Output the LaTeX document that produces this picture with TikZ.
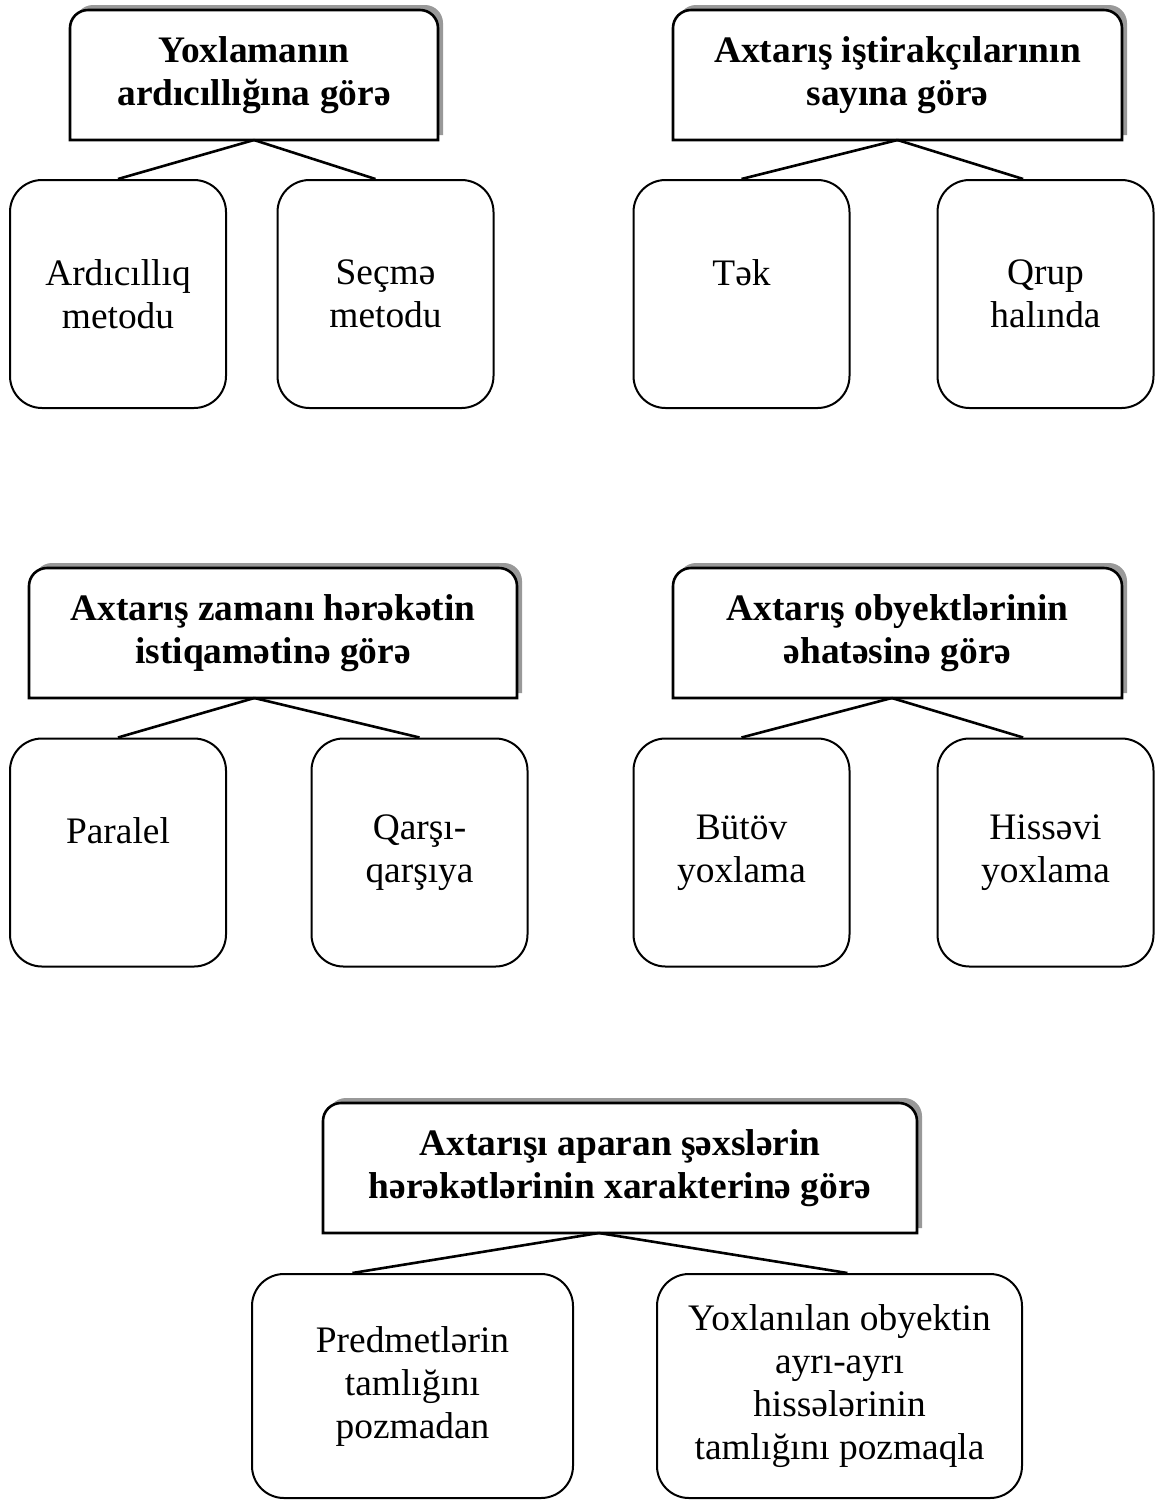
\documentclass[tikz,border=0pt]{standalone}
\usepackage{fontspec}
\setmainfont{Liberation Serif}
\usetikzlibrary{backgrounds}

\tikzset{
  head/.style={align=center, font=\bfseries, minimum height=65pt, inner sep=0pt, outer sep=0pt},
  kind/.style={draw, line width=1pt, rounded corners=16pt, align=center, minimum width=108pt, minimum height=114pt, inner sep=0pt},
  link/.style={line width=1.3pt},
}

\begin{document}
\begin{tikzpicture}[x=0.5pt,y=-0.5pt]
\fontsize{18.7}{21.5}\selectfont
\useasboundingbox (0,0) rectangle (1159,1501);
% headers
\node[head, minimum width=184pt] (h1) at (254,75) {Yoxlamanın\\ardıcıllığına görə};
\node[head, minimum width=224.5pt] (h2) at (897.5,75) {Axtarış iştirakçılarının\\sayına görə};
\node[head, minimum width=244pt] (h3) at (273,633) {Axtarış zamanı hərəkətin\\istiqamətinə görə};
\node[head, minimum width=224.5pt] (h4) at (897.5,633) {Axtarış obyektlərinin\\əhatəsinə görə};
\node[head, minimum width=297pt] (h5) at (620,1168) {Axtarışı aparan şəxslərin\\hərəkətlərinin xarakterinə görə};
% kinds
\node[kind] (ardicil) at (118,294) {Ardıcıllıq\\metodu};
\node[kind] (secme) at (385.5,294) {Seçmə\\metodu};
\node[kind] (tek) at (741.5,294) {Tək\\\mbox{}};
\node[kind] (qrup) at (1045.5,294) {Qrup\\halında};
\node[kind] (paralel) at (118,852.5) {Paralel\\\mbox{}};
\node[kind] (qarsi) at (419.5,852.5) {Qarşı-\\qarşıya};
\node[kind] (butov) at (741.5,852.5) {Bütöv\\yoxlama};
\node[kind] (hisse) at (1045.5,852.5) {Hissəvi\\yoxlama};
\node[kind, minimum width=160.5pt, minimum height=112pt] (tamliq) at (412.5,1386) {Predmetlərin\\tamlığını\\pozmadan};
\node[kind, minimum width=182.5pt, minimum height=112pt] (pozmaq) at (839.5,1386) {Yoxlanılan obyektin\\ayrı-ayrı\\hissələrinin\\tamlığını pozmaqla};
% header frames with shadow
\begin{scope}[on background layer]
\foreach \h in {h1,h2,h3,h4,h5}{
  \fill[black!40, transform canvas={xshift=2.5pt,yshift=2.5pt}] (\h.south west) -- ([yshift=-9pt]\h.north west) arc[start angle=180,end angle=90,radius=9pt] -- ([xshift=-9pt]\h.north east) arc[start angle=90,end angle=0,radius=9pt] -- (\h.south east) -- cycle;
  \filldraw[fill=white, line width=1.3pt] (\h.south west) -- ([yshift=-9pt]\h.north west) arc[start angle=180,end angle=90,radius=9pt] -- ([xshift=-9pt]\h.north east) arc[start angle=90,end angle=0,radius=9pt] -- (\h.south east) -- cycle;
}
\end{scope}
% links
\draw[link] (h1.south) -- (ardicil.north);
\draw[link] (h1.south) -- (secme.95);
\draw[link] (h2.south) -- (tek.north);
\draw[link] (h2.south) -- (qrup.101);
\draw[link] (h3.254) -- (paralel.north);
\draw[link] (h3.254) -- (qarsi.north);
\draw[link] (h4.265) -- (butov.north);
\draw[link] (h4.265) -- (hisse.101);
\draw[link] (h5.252) -- (tamliq.118);
\draw[link] (h5.252) -- (pozmaq.86);
\end{tikzpicture}
\end{document}
